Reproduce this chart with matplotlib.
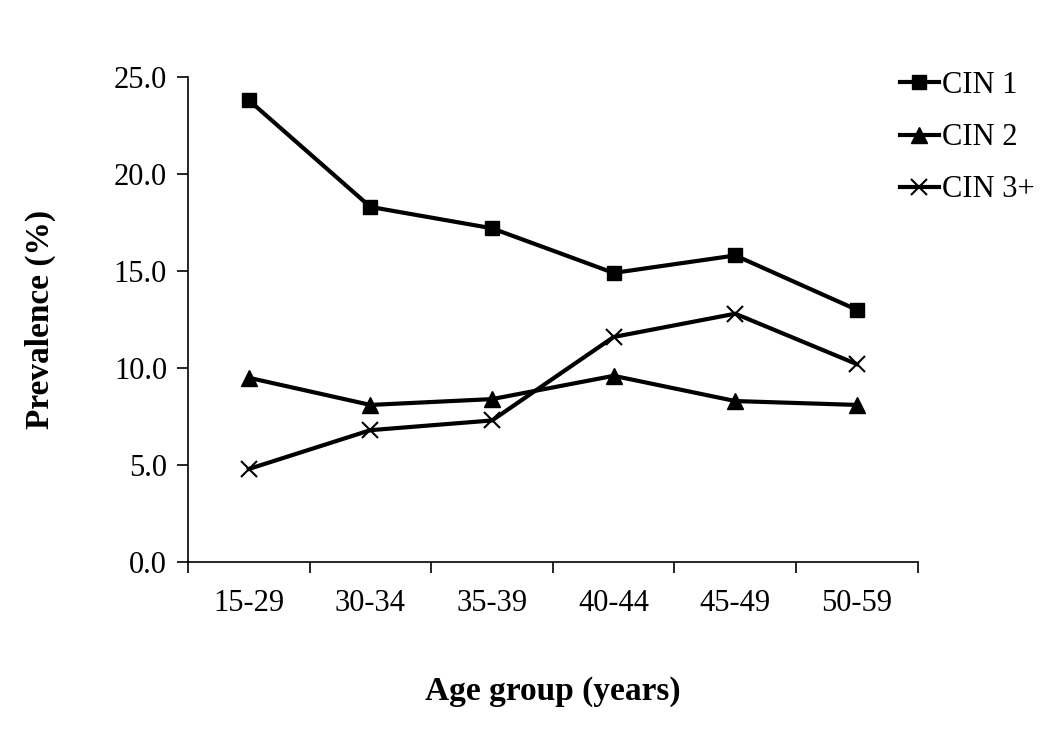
import matplotlib.pyplot as plt
import numpy as np

# Data
age_groups = ["15-29", "30-34", "35-39", "40-44", "45-49", "50-59"]
cin1 = [23.8, 18.3, 17.2, 14.9, 15.8, 13.0]
cin2 = [9.5, 8.1, 8.4, 9.6, 8.3, 8.1]
cin3 = [4.8, 6.8, 7.3, 11.6, 12.8, 10.2]

plt.rcParams['font.family'] = ['Liberation Serif', 'DejaVu Serif']

fig = plt.figure(figsize=(10.5, 7.32), dpi=100)
ax = fig.add_axes([0.179, 0.232, 0.695, 0.663])

x = np.arange(len(age_groups))
ax.plot(x, cin1, color='black', lw=3, marker='s', ms=10, label="CIN 1")
ax.plot(x, cin2, color='black', lw=3, marker='^', ms=11, label="CIN 2")
ax.plot(x, cin3, color='black', lw=3, marker='x', ms=11, mew=1.5, label="CIN 3+")

ax.set_xlim(-0.5, len(age_groups) - 0.5)
ax.set_ylim(0, 25)
ax.set_yticks(np.arange(0, 25.1, 5))
ax.set_yticklabels([f"{v:.1f}" for v in np.arange(0, 25.1, 5)])
ax.set_xticks(x)
ax.set_xticklabels(age_groups)
ax.set_xticks(np.arange(-0.5, len(age_groups), 1), minor=True)
ax.tick_params(axis='x', which='major', length=0, pad=19, labelsize=22)
ax.tick_params(axis='x', which='minor', length=8, width=1.2, direction='out')
ax.tick_params(axis='y', length=8, width=1.2, direction='out', labelsize=22, pad=7)

for side in ['top', 'right']:
    ax.spines[side].set_visible(False)
for side in ['left', 'bottom']:
    ax.spines[side].set_linewidth(1.2)

ax.set_xlabel("Age group (years)", fontsize=24, fontweight='bold', labelpad=42)
ax.set_ylabel("Prevalence (%)", fontsize=24, fontweight='bold', labelpad=42)

fig.legend(loc='upper left', bbox_to_anchor=(900 / 1050, 0.903), frameon=False,
           fontsize=22, handlelength=1.27, handletextpad=0.1, labelspacing=0.76,
           borderpad=0, borderaxespad=0)

fig.savefig("out.png", dpi=100)
